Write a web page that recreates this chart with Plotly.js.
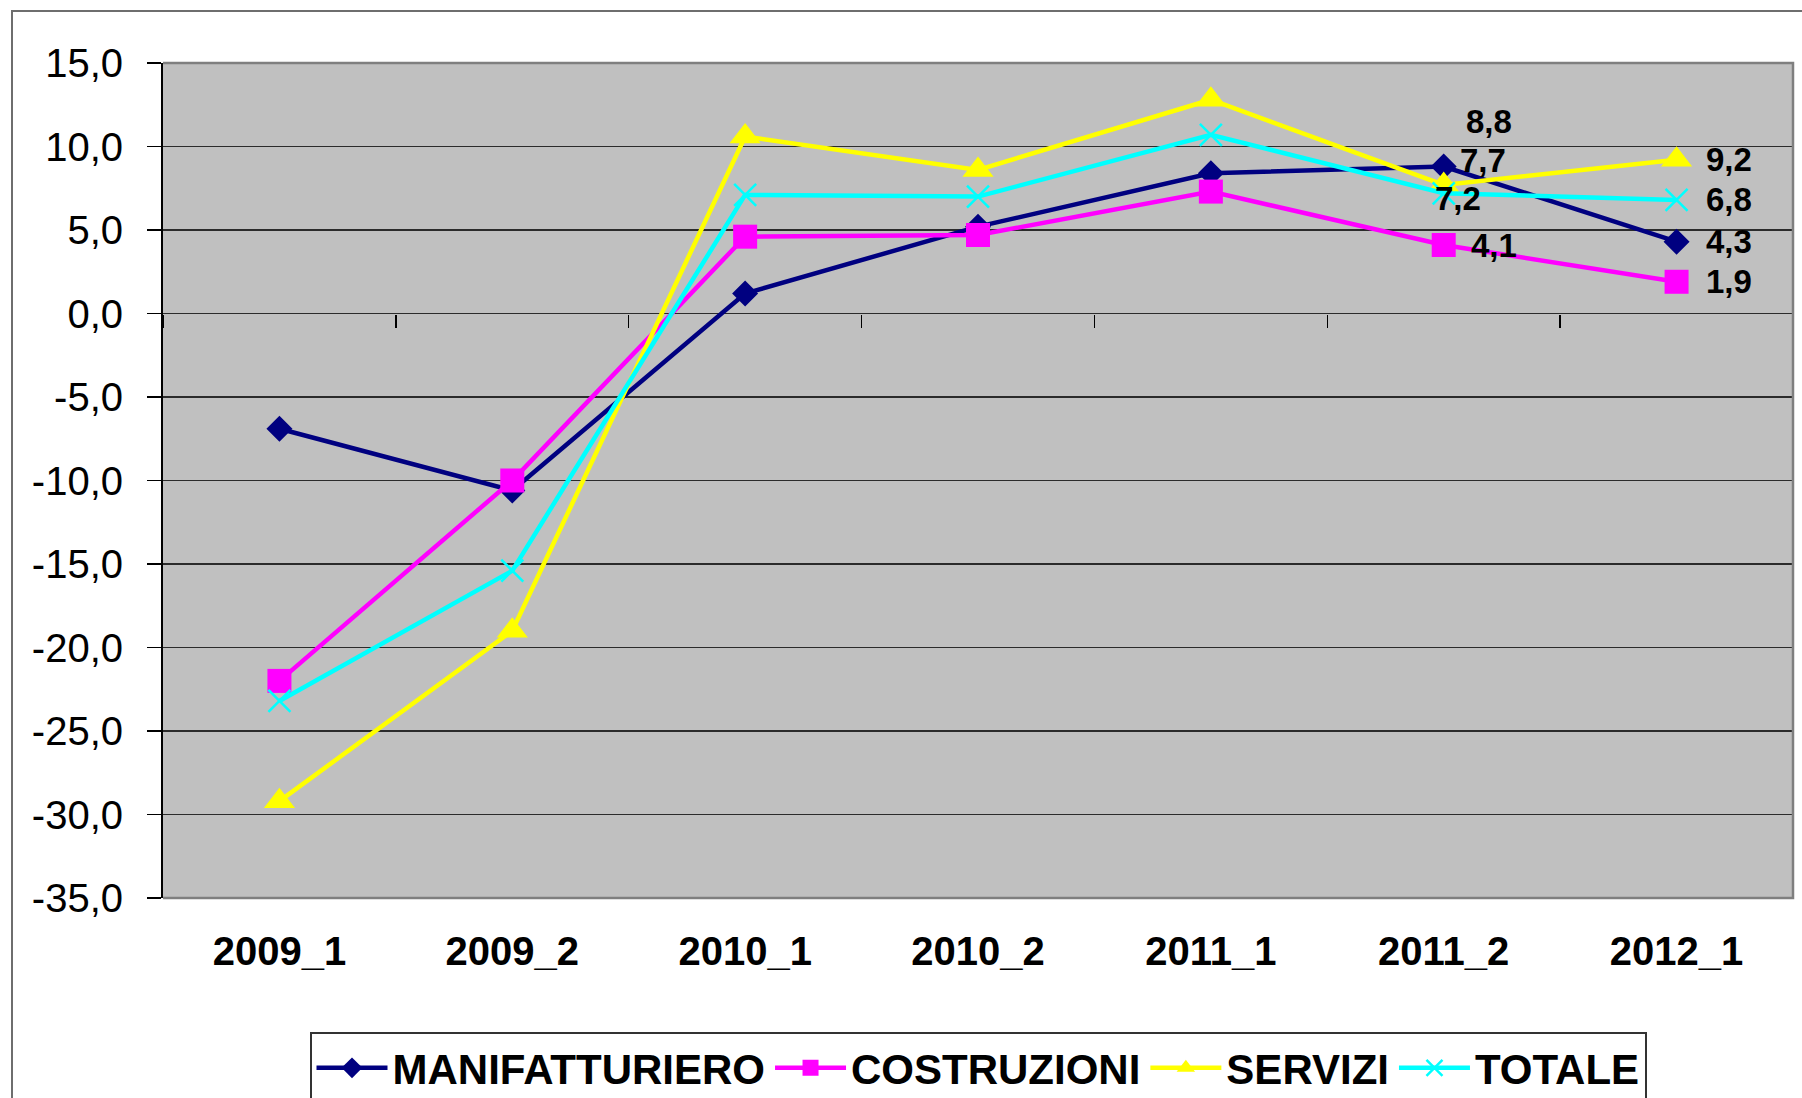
<!DOCTYPE html>
<html>
<head>
<meta charset="utf-8">
<script src="https://cdn.plot.ly/plotly-3.0.1.min.js"></script>
<style>
  html, body { margin: 0; padding: 0; background: #ffffff; overflow: hidden; }
  #frame { position: absolute; left: 11px; top: 10px; width: 1900px; height: 1200px;
           border: 2px solid #6e6e6e; box-sizing: border-box; }
  #chart { position: absolute; left: 0; top: 0; width: 1802px; height: 1098px; }
</style>
</head>
<body>
<div id="frame"></div>
<div id="chart"></div>
<script>
// ---- data ----
const categories = ['2009_1', '2009_2', '2010_1', '2010_2', '2011_1', '2011_2', '2012_1'];
const manifatturiero = [-6.9, -10.6, 1.2, 5.2, 8.4, 8.8, 4.3];
const costruzioni    = [-22.0, -10.0, 4.6, 4.7, 7.3, 4.1, 1.9];
const servizi        = [-29.2, -19.0, 10.6, 8.6, 12.8, 7.7, 9.2];
const totale         = [-23.2, -15.4, 7.1, 7.0, 10.7, 7.2, 6.8];
const seriesNames = ['MANIFATTURIERO', 'COSTRUZIONI', 'SERVIZI', 'TOTALE'];
const yTickValues = [15, 10, 5, 0, -5, -10, -15, -20, -25, -30, -35];
// which category indices get a data label
const labelledPoints = [5, 6];

// ---- styles ----
const fmt = v => v.toFixed(1).replace('.', ',');
const seriesData = [manifatturiero, costruzioni, servizi, totale];
const colors = ['#000080', '#FF00FF', '#FFFF00', '#00FFFF'];
const markerStyles = [
  {symbol: 'diamond', size: 20},
  {symbol: 'square', size: 24},
  {symbol: 'triangle-up', size: 27},
  {symbol: 'x-thin-open', size: 22}
];
// label offsets (pixels) per series for the two labelled categories
const labelShift = [
  [[45, 45], [52, 0]],
  [[50, 0], [52, 0]],
  [[39, 24], [52, 0]],
  [[14, -5], [52, 0]]
];
const FONT = 'Liberation Sans, Arial, sans-serif';

const traces = seriesData.map((vals, i) => ({
  type: 'scatter',
  mode: 'lines+markers',
  name: seriesNames[i],
  x: categories,
  y: vals,
  line: {color: colors[i], width: 4.5},
  marker: {
    symbol: markerStyles[i].symbol,
    size: markerStyles[i].size,
    color: colors[i],
    line: {width: markerStyles[i].symbol === 'x-thin-open' ? 2.5 : 0, color: colors[i]}
  },
  hoverinfo: 'x+y+name'
}));

// invisible helper trace so the zero-line axis (x2) knows the categories
traces.push({
  type: 'scatter', mode: 'markers', x: categories, y: totale,
  xaxis: 'x2', yaxis: 'y', showlegend: false, hoverinfo: 'skip',
  marker: {opacity: 0, size: 1}
});

const annotations = [];
seriesData.forEach((vals, i) => {
  labelledPoints.forEach((ci, k) => {
    annotations.push({
      x: categories[ci], y: vals[ci], xref: 'x', yref: 'y',
      text: fmt(vals[ci]),
      showarrow: false,
      xshift: labelShift[i][k][0], yshift: labelShift[i][k][1],
      font: {family: FONT, size: 33, color: '#000000', weight: 'bold'}
    });
  });
});

const layout = {
  width: 1802, height: 1098,
  margin: {l: 163, r: 9, t: 63, b: 200, pad: 0},
  paper_bgcolor: 'rgba(0,0,0,0)',
  plot_bgcolor: '#C0C0C0',
  separators: ',.',
  showlegend: true,
  font: {family: FONT, color: '#000000'},
  xaxis: {
    type: 'category',
    categoryorder: 'array', categoryarray: categories,
    range: [-0.5, categories.length - 0.5],
    showgrid: false, zeroline: false, showline: false, automargin: false,
    ticks: '', ticklabelstandoff: 26,
    tickfont: {family: FONT, size: 40, color: '#000000', weight: 'bold'}
  },
  xaxis2: {
    type: 'category', overlaying: 'x', anchor: 'free', position: 0.7, side: 'bottom',
    categoryorder: 'array', categoryarray: categories,
    range: [-0.5, categories.length - 0.5],
    showgrid: false, zeroline: false, showline: false, automargin: false,
    ticks: 'outside', tickson: 'boundaries', ticklen: 13, tickwidth: 1.5, tickcolor: '#000000',
    showticklabels: false
  },
  yaxis: {
    range: [-35, 15],
    tickmode: 'array', tickvals: yTickValues, ticktext: yTickValues.map(fmt),
    showgrid: true, gridcolor: '#2b2b2b', gridwidth: 1.5,
    zeroline: false, automargin: false,
    showline: true, linecolor: '#000000', linewidth: 2,
    ticks: 'outside', ticklen: 14, tickwidth: 1.5, tickcolor: '#000000',
    ticklabelstandoff: 16,
    tickfont: {family: FONT, size: 40, color: '#000000'}
  },
  legend: {
    orientation: 'h',
    xref: 'container', yref: 'container',
    x: 978 / 1802, xanchor: 'center', y: 1 - 1032 / 1098, yanchor: 'top',
    bordercolor: '#333333', borderwidth: 2, bgcolor: '#ffffff',
    itemwidth: 71,
    font: {family: FONT, size: 42, color: '#000000', weight: 'bold'}
  },
  shapes: [{
    type: 'path', xref: 'paper', yref: 'paper', layer: 'above',
    path: 'M0,1 H1 V0 H0',
    line: {color: '#7f7f7f', width: 2.5}
  }],
  annotations: annotations
};

Plotly.newPlot('chart', traces, layout, {displayModeBar: false, staticPlot: true});
</script>
</body>
</html>
